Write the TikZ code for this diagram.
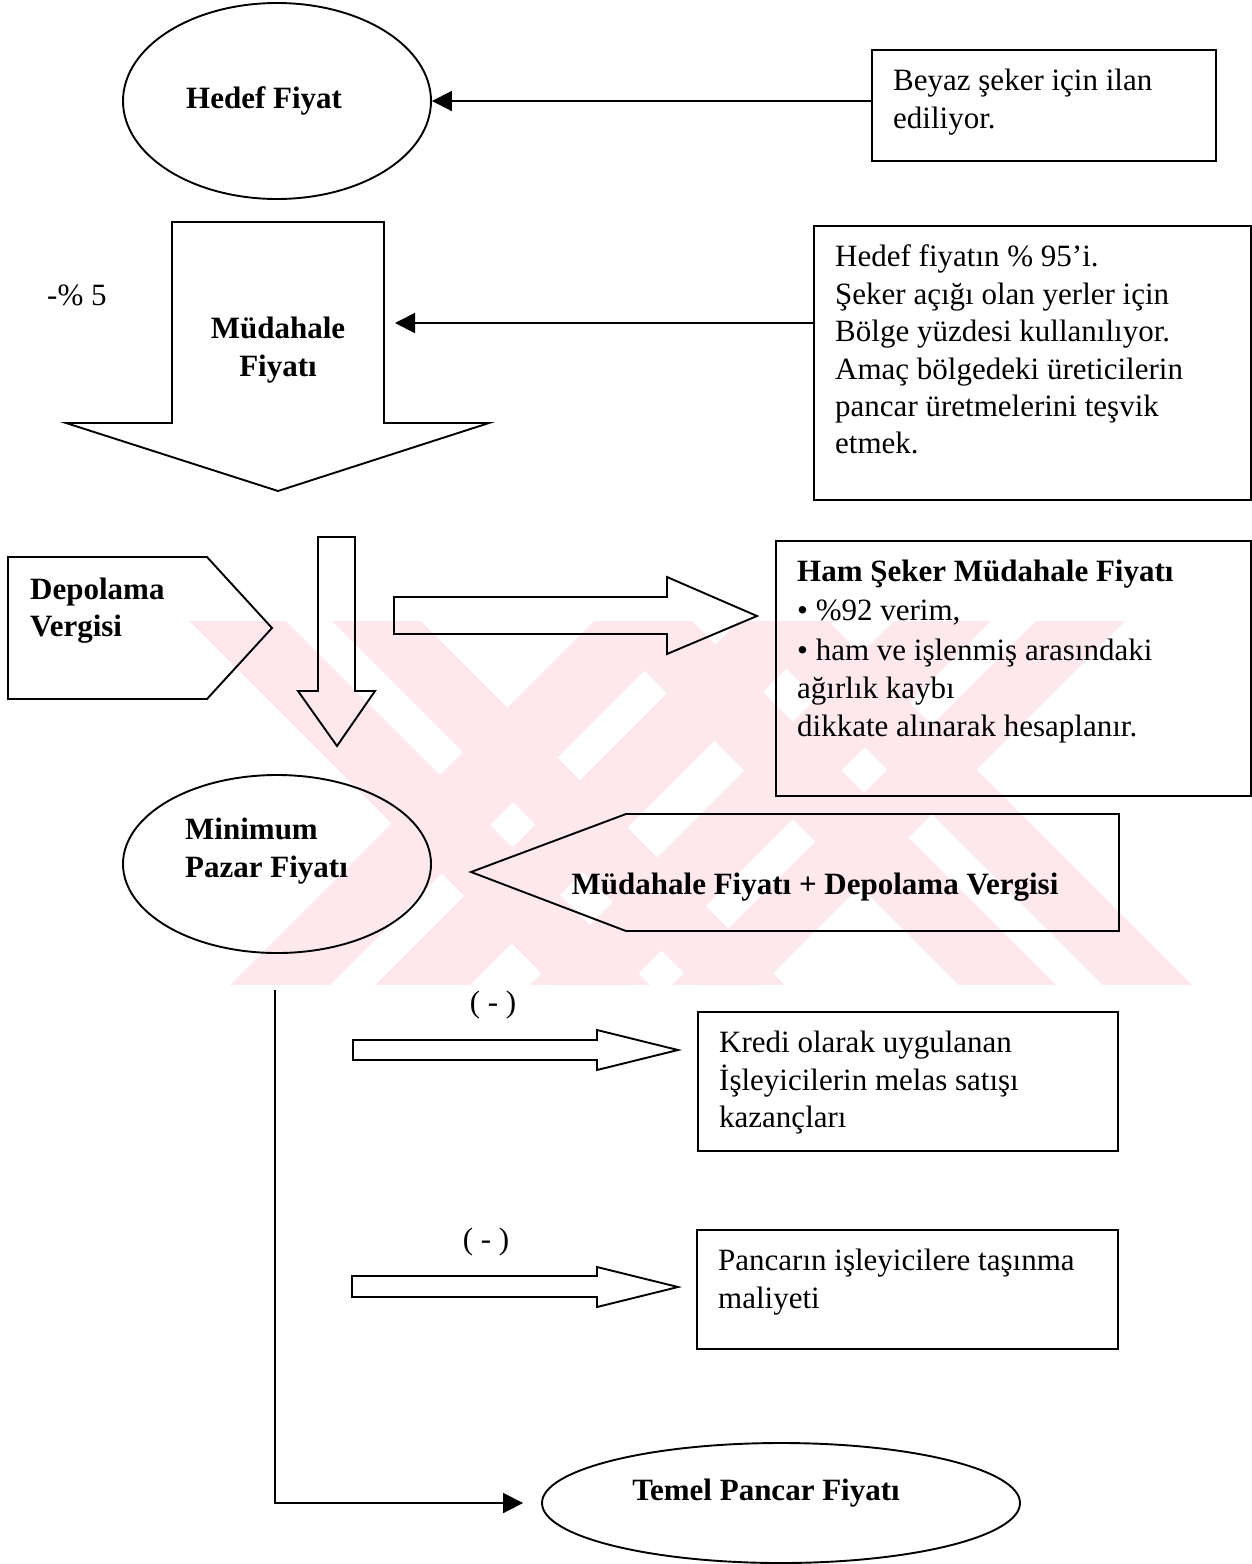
\documentclass[tikz,border=0pt]{standalone}
\usepackage{fontspec}
\setmainfont{Liberation Serif}
\usetikzlibrary{arrows.meta,shapes.geometric}
\definecolor{wm}{RGB}{253,233,237}
\begin{document}
\begin{tikzpicture}[x=1pt,y=-1pt,
  ln/.style={draw,line width=1.9pt,line join=miter},
  box/.style={draw,line width=1.9pt,rectangle,inner sep=0pt,anchor=north west},
  ell/.style={draw,line width=1.9pt,ellipse,inner sep=0pt},
  txt/.style={font=\fontsize{31}{37}\selectfont,inner sep=0pt,anchor=base west},
  btxt/.style={font=\fontsize{31}{37}\selectfont\bfseries,inner sep=0pt,anchor=base west},
  conn/.style={line width=1.9pt,-{Triangle[length=20pt,width=20pt]}}]
\useasboundingbox (0,0) rectangle (1251,1564);
% watermark
\fill[wm] (189,621) -- (286,621) -- (650,985) -- (553,985) -- cycle;
\fill[wm] (332,621) -- (421,621) -- (785,985) -- (696,985) -- cycle;
\fill[wm] (595,621) -- (692,621) -- (1056,985) -- (959,985) -- cycle;
\fill[wm] (739,621) -- (828,621) -- (1192,985) -- (1103,985) -- cycle;
\fill[wm] (594,621) -- (694,621) -- (330,985) -- (230,985) -- cycle;
\fill[wm] (739,621) -- (834,621) -- (470,985) -- (375,985) -- cycle;
\fill[wm] (894,621) -- (991,621) -- (627,985) -- (530,985) -- cycle;
\fill[wm] (1036,621) -- (1125,621) -- (761,985) -- (672,985) -- cycle;

% nodes
\node[ell,minimum width=308,minimum height=196] (hedef) at (277,101) {};
\node[btxt] (hedeft) at (186,108) {Hedef Fiyat};
\node[box,minimum width=344,minimum height=111] (beyaz) at (871,49) {};
\node[txt] (beyaz1) at (893,90) {Beyaz şeker için ilan};
\node[txt] (beyaz2) at (893,128) {ediliyor.};

% Mudahale big arrow
\draw[ln] (172,222) -- (384,222) -- (384,423) -- (489,423) -- (278,491) -- (66,423) -- (172,423) -- cycle;
\coordinate (mudR) at (395,323);
\node[btxt,anchor=base] (mud1) at (278,338) {Müdahale};
\node[btxt,anchor=base] (mud2) at (278,376) {Fiyatı};
\node[txt] (yuzde) at (47,305) {-\% 5};

\node[box,minimum width=437,minimum height=274] (hedefbox) at (813,225) {};
\node[txt] (hb1) at (835,266) {Hedef fiyatın \% 95’i.};
\node[txt] (hb2) at (835,304) {Şeker açığı olan yerler için};
\node[txt] (hb3) at (835,341) {Bölge yüzdesi kullanılıyor.};
\node[txt] (hb4) at (835,379) {Amaç bölgedeki üreticilerin};
\node[txt] (hb5) at (835,416) {pancar üretmelerini teşvik};
\node[txt] (hb6) at (835,453) {etmek.};

% Depolama
\draw[ln] (8,557) -- (207,557) -- (272,628) -- (207,699) -- (8,699) -- cycle;
\node[btxt] (dep1) at (30,599) {Depolama};
\node[btxt] (dep2) at (30,636) {Vergisi};

% thin down arrow
\draw[ln] (318,537) -- (355,537) -- (355,691) -- (375,691) -- (337,746) -- (298,691) -- (318,691) -- cycle;
% right block arrow
\draw[ln] (394,597) -- (667,597) -- (667,577) -- (757,616) -- (667,654) -- (667,634) -- (394,634) -- cycle;

\node[box,minimum width=475,minimum height=255] (ham) at (775,540) {};
\node[btxt] (ham1) at (797,581) {Ham Şeker Müdahale Fiyatı};
\node[txt] (ham2) at (797,620) {• \%92 verim,};
\node[txt] (ham3) at (797,660) {• ham ve işlenmiş arasındaki};
\node[txt] (ham4) at (797,698) {ağırlık kaybı};
\node[txt] (ham5) at (797,736) {dikkate alınarak hesaplanır.};

\node[ell,minimum width=308,minimum height=178] (mpf) at (277,864) {};
\node[btxt] (mpf1) at (185,839) {Minimum};
\node[btxt] (mpf2) at (185,877) {Pazar Fiyatı};

\draw[ln] (471,872) -- (626,814) -- (1119,814) -- (1119,931) -- (626,931) -- cycle;
\node[btxt,anchor=base] (sum) at (815,894) {Müdahale Fiyatı + Depolama Vergisi};

% lower part
\node[txt,anchor=base] (minus1) at (493,1012) {( - )};
\draw[ln] (353,1040) -- (597,1040) -- (597,1030) -- (678,1050) -- (597,1070) -- (597,1060) -- (353,1060) -- cycle;
\node[box,minimum width=420,minimum height=139] (kredi) at (697,1011) {};
\node[txt] (kr1) at (719,1052) {Kredi olarak uygulanan};
\node[txt] (kr2) at (719,1090) {İşleyicilerin melas satışı};
\node[txt] (kr3) at (719,1127) {kazançları};

\node[txt,anchor=base] (minus2) at (486,1249) {( - )};
\draw[ln] (352,1276) -- (597,1276) -- (597,1267) -- (678,1287) -- (597,1307) -- (597,1297) -- (352,1297) -- cycle;
\node[box,minimum width=421,minimum height=119] (pancar) at (696,1229) {};
\node[txt] (pc1) at (718,1270) {Pancarın işleyicilere taşınma};
\node[txt] (pc2) at (718,1308) {maliyeti};

\node[ell,minimum width=478,minimum height=120] (temel) at (781,1503) {};
\node[btxt,anchor=base] (temelt) at (766,1500) {Temel Pancar Fiyatı};

% connectors
\draw[conn] (beyaz.west |- hedef.east) -- (hedef.east);
\draw[conn] (hedefbox.west |- mudR) -- (mudR);
\coordinate (lt) at (275,990);
\draw[conn,shorten >=18pt] (lt) |- (temel.west);
\end{tikzpicture}
\end{document}
